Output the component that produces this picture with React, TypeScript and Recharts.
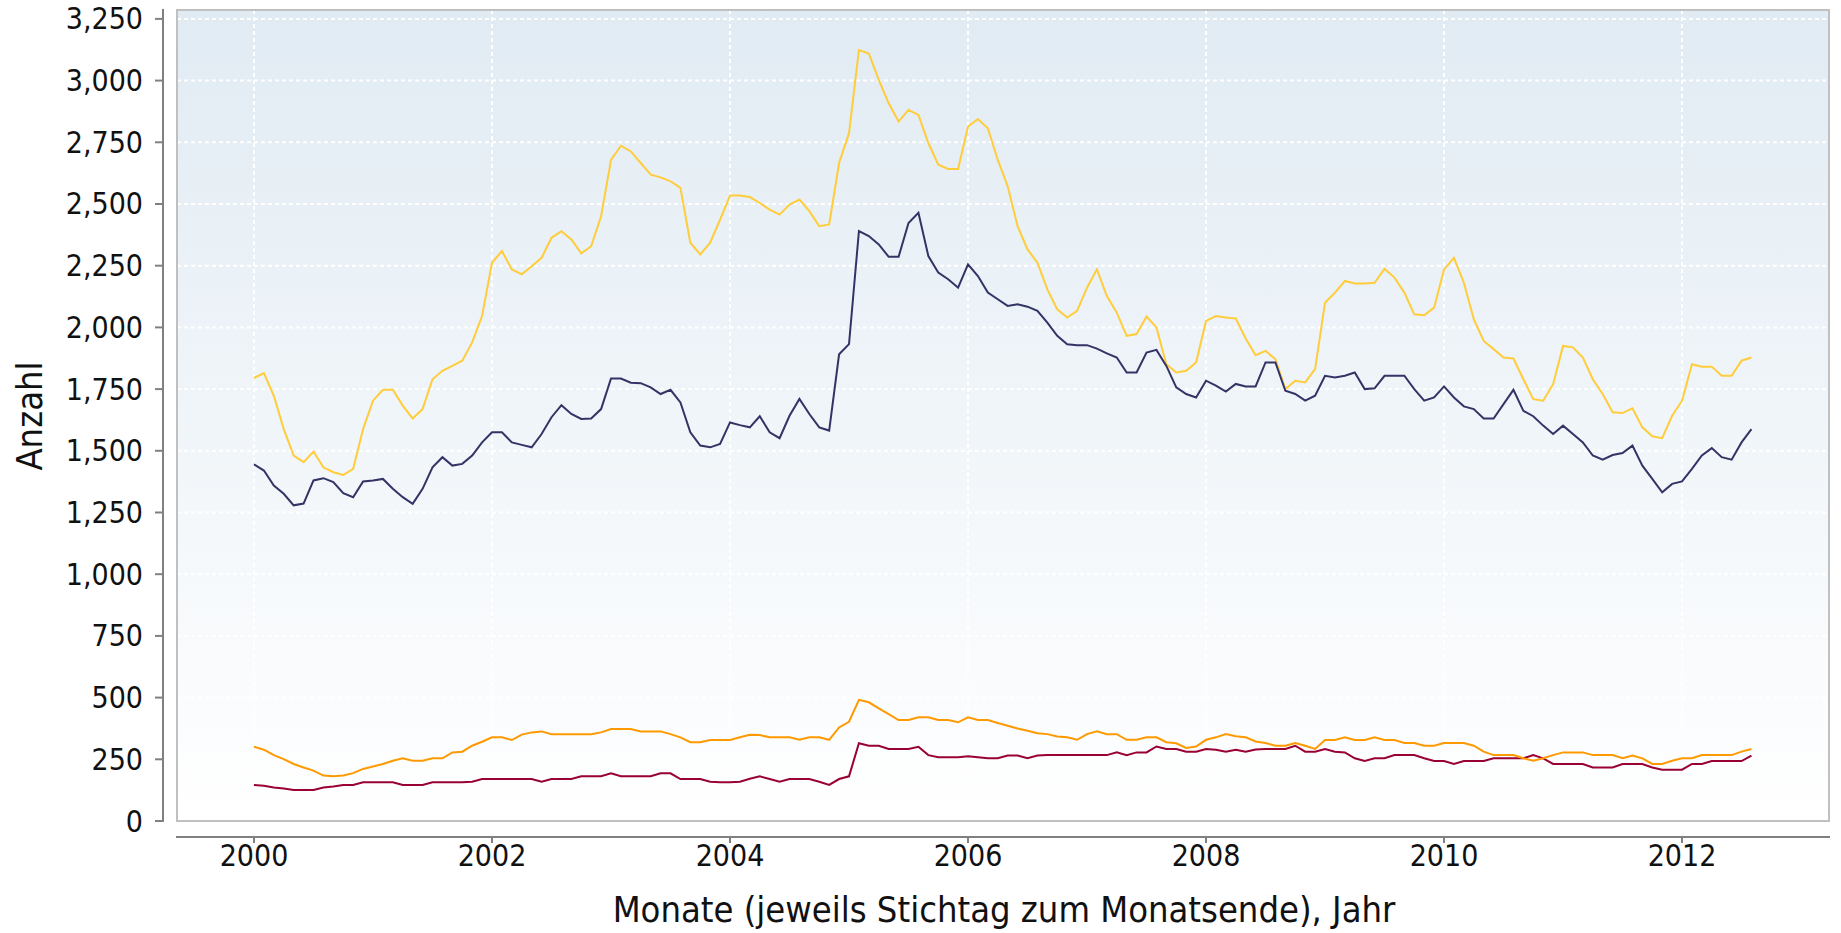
import React from "react";
import {
  LineChart,
  Line,
  XAxis,
  YAxis,
  CartesianGrid,
} from "recharts";

// monthly values, Jan 2000 .. Aug 2012 (end of month)
const START_YEAR = 2000;
const MONTH_COUNT = 152;

const gelb = [
  1795, 1815, 1723, 1588, 1481, 1454, 1497, 1433, 1413, 1402,
  1427, 1588, 1703, 1747, 1747, 1683, 1631, 1669, 1790, 1824,
  1844, 1865, 1939, 2046, 2262, 2309, 2235, 2215, 2248, 2282,
  2363, 2390, 2356, 2300, 2329, 2450, 2679, 2736, 2713, 2666,
  2619, 2608, 2592, 2565, 2343, 2296, 2343, 2437, 2534, 2534,
  2528, 2504, 2477, 2457, 2498, 2518, 2471, 2410, 2417, 2666,
  2787, 3124, 3110, 3003, 2908, 2834, 2881, 2861, 2747, 2659,
  2642, 2642, 2814, 2844, 2807, 2679, 2572, 2410, 2316, 2262,
  2154, 2073, 2040, 2067, 2161, 2235, 2127, 2060, 1966, 1973,
  2044, 2000, 1851, 1817, 1824, 1858, 2026, 2046, 2040, 2036,
  1955, 1887, 1905, 1871, 1750, 1784, 1777, 1831, 2100, 2141,
  2188, 2178, 2178, 2181, 2238, 2202, 2141, 2053, 2049, 2080,
  2235, 2282, 2181, 2033, 1945, 1912, 1878, 1874, 1790, 1709,
  1703, 1770, 1925, 1919, 1878, 1790, 1730, 1656, 1653, 1672,
  1595, 1559, 1551, 1642, 1703, 1851, 1841, 1841, 1804, 1804,
  1865, 1878,
];

const blau = [
  1445, 1420, 1359, 1326, 1279, 1286, 1380, 1389, 1373, 1328,
  1312, 1376, 1380, 1386, 1346, 1312, 1285, 1346, 1433, 1474,
  1440, 1447, 1481, 1534, 1575, 1575, 1534, 1524, 1514, 1568,
  1636, 1685, 1649, 1629, 1631, 1669, 1793, 1793, 1776, 1774,
  1757, 1730, 1747, 1696, 1575, 1521, 1514, 1528, 1615, 1604,
  1595, 1640, 1575, 1551, 1642, 1710, 1649, 1595, 1582, 1891,
  1932, 2390, 2370, 2336, 2286, 2286, 2423, 2464, 2289, 2222,
  2195, 2161, 2255, 2208, 2141, 2114, 2087, 2094, 2084, 2067,
  2019, 1966, 1932, 1928, 1928, 1914, 1895, 1878, 1817, 1817,
  1898, 1909, 1844, 1757, 1730, 1716, 1784, 1764, 1740, 1771,
  1761, 1761, 1858, 1858, 1743, 1730, 1703, 1723, 1804, 1797,
  1804, 1817, 1750, 1753, 1804, 1804, 1804, 1750, 1703, 1716,
  1761, 1716, 1680, 1669, 1631, 1631, 1689, 1747, 1662, 1640,
  1602, 1568, 1602, 1568, 1534, 1481, 1464, 1483, 1491, 1521,
  1440, 1386, 1332, 1366, 1376, 1427, 1481, 1511, 1474, 1464,
  1534, 1588,
];

const orange = [
  301, 289, 267, 251, 231, 217, 204, 184, 181, 184,
  194, 211, 221, 231, 244, 254, 244, 244, 254, 254,
  278, 281, 305, 321, 339, 339, 328, 350, 359, 363,
  352, 352, 352, 352, 352, 359, 373, 373, 373, 363,
  363, 363, 352, 339, 319, 319, 328, 328, 328, 339,
  349, 348, 339, 339, 339, 329, 339, 339, 329, 379,
  402, 491, 481, 456, 433, 409, 409, 420, 420, 409,
  409, 400, 420, 409, 409, 397, 386, 375, 366, 356,
  352, 342, 339, 329, 352, 363, 352, 352, 329, 329,
  339, 339, 319, 315, 296, 302, 329, 339, 352, 343,
  339, 322, 316, 305, 305, 316, 305, 292, 328, 328,
  339, 328, 328, 339, 328, 328, 316, 316, 305, 305,
  316, 316, 316, 305, 281, 267, 267, 267, 254, 244,
  254, 267, 278, 278, 278, 267, 267, 267, 254, 265,
  254, 231, 231, 244, 254, 254, 267, 267, 267, 267,
  281, 292,
];

const rot = [
  146, 143, 136, 132, 126, 126, 126, 136, 140, 146,
  146, 157, 157, 157, 157, 146, 146, 146, 157, 157,
  157, 157, 159, 170, 170, 170, 170, 170, 170, 159,
  170, 170, 170, 181, 181, 181, 193, 181, 181, 181,
  181, 193, 193, 170, 170, 170, 159, 157, 157, 159,
  171, 181, 170, 159, 170, 170, 170, 159, 146, 170,
  181, 315, 305, 305, 292, 292, 292, 301, 267, 258,
  258, 258, 262, 258, 254, 254, 265, 265, 254, 265,
  267, 267, 267, 267, 267, 267, 267, 278, 267, 278,
  278, 302, 292, 292, 281, 281, 292, 289, 281, 289,
  281, 290, 292, 292, 292, 305, 281, 281, 292, 281,
  278, 254, 243, 254, 254, 267, 267, 267, 254, 243,
  243, 231, 243, 243, 243, 254, 254, 254, 254, 267,
  254, 231, 231, 231, 231, 217, 217, 217, 231, 231,
  231, 217, 208, 208, 208, 231, 231, 243, 243, 243,
  243, 265,
];

const yTicks = [0, 250, 500, 750, 1000, 1250, 1500, 1750, 2000, 2250, 2500, 2750, 3000, 3250];
const xTicks = [2000, 2002, 2004, 2006, 2008, 2010, 2012];

const data = Array.from({ length: MONTH_COUNT }, (_, i) => ({
  t: START_YEAR + i / 12,
  gelb: gelb[i],
  blau: blau[i],
  orange: orange[i],
  rot: rot[i],
}));

const FONT = "'DejaVu Sans Condensed', 'DejaVu Sans', sans-serif";

function YTick(props: any) {
  const { y, payload } = props;
  return (
    <g>
      <line x1={155} x2={163} y1={y} y2={y} stroke="#808080" strokeWidth={2} />
      <text
        x={143}
        y={y}
        textAnchor="end"
        dominantBaseline="central"
        fill="#111"
        style={{ fontFamily: FONT, fontSize: 30, fontStretch: "condensed" }}
      >
        {Number(payload.value).toLocaleString("en-US")}
      </text>
    </g>
  );
}

function XTick(props: any) {
  const { x, payload } = props;
  return (
    <g>
      <line x1={x} x2={x} y1={837} y2={843} stroke="#808080" strokeWidth={2} />
      <text
        x={x}
        y={855}
        textAnchor="middle"
        dominantBaseline="central"
        fill="#111"
        style={{ fontFamily: FONT, fontSize: 30, fontStretch: "condensed" }}
      >
        {payload.value}
      </text>
    </g>
  );
}

export default function App() {
  return (
    <div
      style={{
        position: "absolute",
        left: 0,
        top: 0,
        width: 1841,
        height: 933,
        background: "#fff",
      }}
    >
      <LineChart
        width={1841}
        height={933}
        data={data}
        margin={{ top: 10, right: 12, bottom: 0, left: 0 }}
      >
        <defs>
          <linearGradient id="plotBg" x1="0" y1="0" x2="0" y2="1">
            <stop offset="0%" stopColor="#e1ebf3" />
            <stop offset="100%" stopColor="#ffffff" />
          </linearGradient>
        </defs>
        <CartesianGrid
          fill="url(#plotBg)"
          stroke="#ffffff"
          strokeWidth={2}
          strokeDasharray="4 3"
        />
        <XAxis
          dataKey="t"
          type="number"
          domain={[1999.353, 2013.235]}
          ticks={xTicks}
          allowDataOverflow
          height={112}
          axisLine={false}
          tickLine={false}
          tick={<XTick />}
          interval={0}
        />
        <YAxis
          type="number"
          domain={[0, 3286]}
          ticks={yTicks}
          allowDataOverflow
          width={177}
          axisLine={false}
          tickLine={false}
          tick={<YTick />}
          interval={0}
        />
        <Line type="linear" dataKey="gelb" stroke="#ffcc3a" strokeWidth={2} dot={false} isAnimationActive={false} />
        <Line type="linear" dataKey="blau" stroke="#333366" strokeWidth={2} dot={false} isAnimationActive={false} />
        <Line type="linear" dataKey="rot" stroke="#990033" strokeWidth={2} dot={false} isAnimationActive={false} />
        <Line type="linear" dataKey="orange" stroke="#ff9900" strokeWidth={2} dot={false} isAnimationActive={false} />
      </LineChart>

      {/* plot frame */}
      <div
        style={{
          position: "absolute",
          left: 176,
          top: 9,
          width: 1654,
          height: 813,
          border: "2px solid #c0c0c0",
          boxSizing: "border-box",
          pointerEvents: "none",
        }}
      />
      {/* offset axis lines */}
      <div style={{ position: "absolute", left: 162, top: 9, width: 2, height: 813, background: "#808080" }} />
      <div style={{ position: "absolute", left: 176, top: 836, width: 1654, height: 2, background: "#808080" }} />

      <div
        style={{
          position: "absolute",
          left: 30,
          top: 416,
          transform: "translate(-50%, -50%) rotate(-90deg)",
          fontFamily: FONT,
          fontStretch: "condensed",
          fontSize: 36,
          lineHeight: "40px",
          color: "#111",
          whiteSpace: "nowrap",
        }}
      >
        Anzahl
      </div>
      <div
        style={{
          position: "absolute",
          left: 1004,
          top: 910,
          transform: "translate(-50%, -50%)",
          fontFamily: FONT,
          fontStretch: "condensed",
          fontSize: 36,
          lineHeight: "40px",
          color: "#111",
          whiteSpace: "nowrap",
        }}
      >
        Monate (jeweils Stichtag zum Monatsende), Jahr
      </div>
    </div>
  );
}
